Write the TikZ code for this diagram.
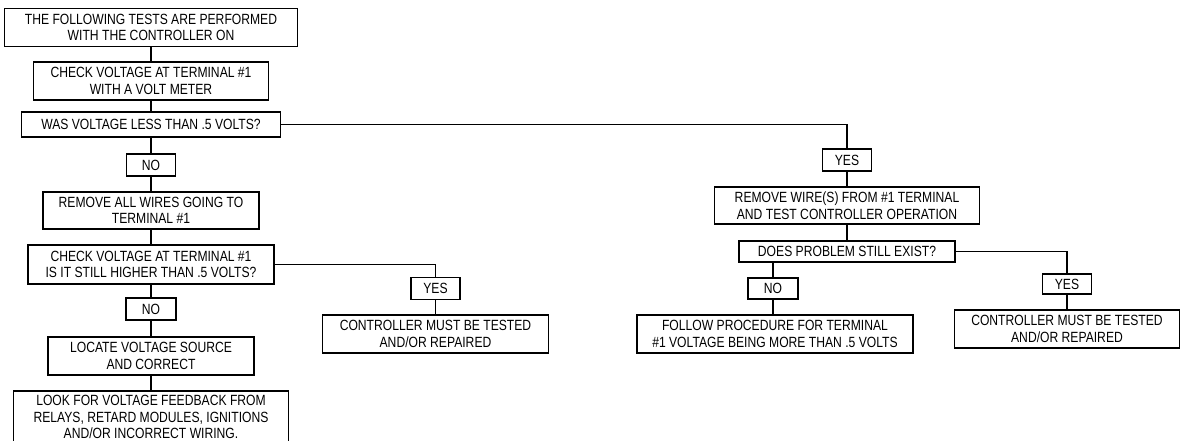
\documentclass[tikz,border=0pt]{standalone}
\usepackage{fontspec}
\setmainfont{Liberation Sans}[FakeStretch=0.82]
\usetikzlibrary{positioning}

\begin{document}
\begin{tikzpicture}[x=1pt,y=-1pt,node distance=45pt]
  \useasboundingbox (0,0) rectangle (1181,440);
  \tikzset{
    action/.style={rectangle,draw=black,line width=1.5pt,minimum height=38pt,inner sep=0pt,
      align=center,font=\fontsize{14.8}{16.6}\selectfont},
    question/.style={action,minimum height=23pt},
    answer/.style={action,minimum width=49pt,minimum height=22pt},
    % edge styles
    link/.style={draw=black,line width=1.4pt},
    stepDist/.style={node distance=45.5pt}
  }

  %% Main column
  \node [action, minimum width=293pt] (start) at (151,27.5) {THE FOLLOWING TESTS ARE PERFORMED\\WITH THE CONTROLLER ON};
  \node [action, minimum width=235pt, node distance=53.5pt] (check1) [below of=start] {CHECK VOLTAGE AT TERMINAL \#1\\WITH A VOLT METER}
  edge [link] (start);
  \node [question, minimum width=259pt, minimum height=25pt, node distance=43.5pt] (was) [below of=check1] {WAS VOLTAGE LESS THAN .5 VOLTS?}
  edge [link] (check1);
  \node [answer, node distance=40.5pt] (no1) [below of=was] {NO}
  edge [link] (was);
  \node [action, minimum width=216pt, minimum height=37pt, stepDist] (remove) [below of=no1] {REMOVE ALL WIRES GOING TO\\TERMINAL \#1}
  edge [link] (no1);
  \node [action, minimum width=246pt, minimum height=39pt, node distance=54pt] (check2) [below of=remove] {CHECK VOLTAGE AT TERMINAL \#1\\IS IT STILL HIGHER THAN .5 VOLTS?}
  edge [link] (remove);
  \node [answer, minimum width=50pt, node distance=44.5pt] (no2) [below of=check2] {NO}
  edge [link] (check2);
  \node [action, minimum width=206pt, node distance=47pt] (locate) [below of=no2] {LOCATE VOLTAGE SOURCE\\AND CORRECT}
  edge [link] (no2);
  \node [action, minimum width=275pt, minimum height=52pt, node distance=61pt] (look) [below of=locate] {LOOK FOR VOLTAGE FEEDBACK FROM\\RELAYS, RETARD MODULES, IGNITIONS\\AND/OR INCORRECT WIRING.}
  edge [link] (locate);

  %% Still higher
  \node [answer, node distance=24pt, xshift=284.5pt] (yes2) [below of=check2] {YES};
  \draw [link] (check2.east) -| (yes2.north);
  \node [action, minimum width=226pt, stepDist] (ctrl1) [below of=yes2] {CONTROLLER MUST BE TESTED\\AND/OR REPAIRED}
  edge [link] (yes2);

  %% Less than .5 volts
  \node [answer, node distance=35.5pt, xshift=696pt] (yes1) [below of=was] {YES};
  \draw [link] (was.east) -| (yes1.north);
  \node [action, minimum width=265pt, minimum height=37pt, stepDist] (removew) [below of=yes1] {REMOVE WIRE(S) FROM \#1 TERMINAL\\AND TEST CONTROLLER OPERATION}
  edge [link] (yes1);
  \node [question, minimum width=216pt, minimum height=21pt, node distance=46pt] (does) [below of=removew] {DOES PROBLEM STILL EXIST?}
  edge [link] (removew);

  \node [answer, minimum width=50pt, minimum height=21pt, node distance=37pt, xshift=-74pt] (no3) [below of=does] {NO};
  \draw [link] (no3.north |- does.south) -- (no3);
  \node [action, minimum width=276pt, stepDist, xshift=2pt] (follow) [below of=no3] {FOLLOW PROCEDURE FOR TERMINAL\\\#1 VOLTAGE BEING MORE THAN .5 VOLTS};
  \draw [link] (no3) -- (no3 |- follow.north);

  \node [answer, minimum height=20pt, node distance=32.5pt, xshift=220pt] (yes3) [below of=does] {YES};
  \draw [link] (does.east) -| (yes3.north);
  \node [action, minimum width=225pt, node distance=45pt] (ctrl2) [below of=yes3] {CONTROLLER MUST BE TESTED\\AND/OR REPAIRED}
  edge [link] (yes3);

\end{tikzpicture}
\end{document}
